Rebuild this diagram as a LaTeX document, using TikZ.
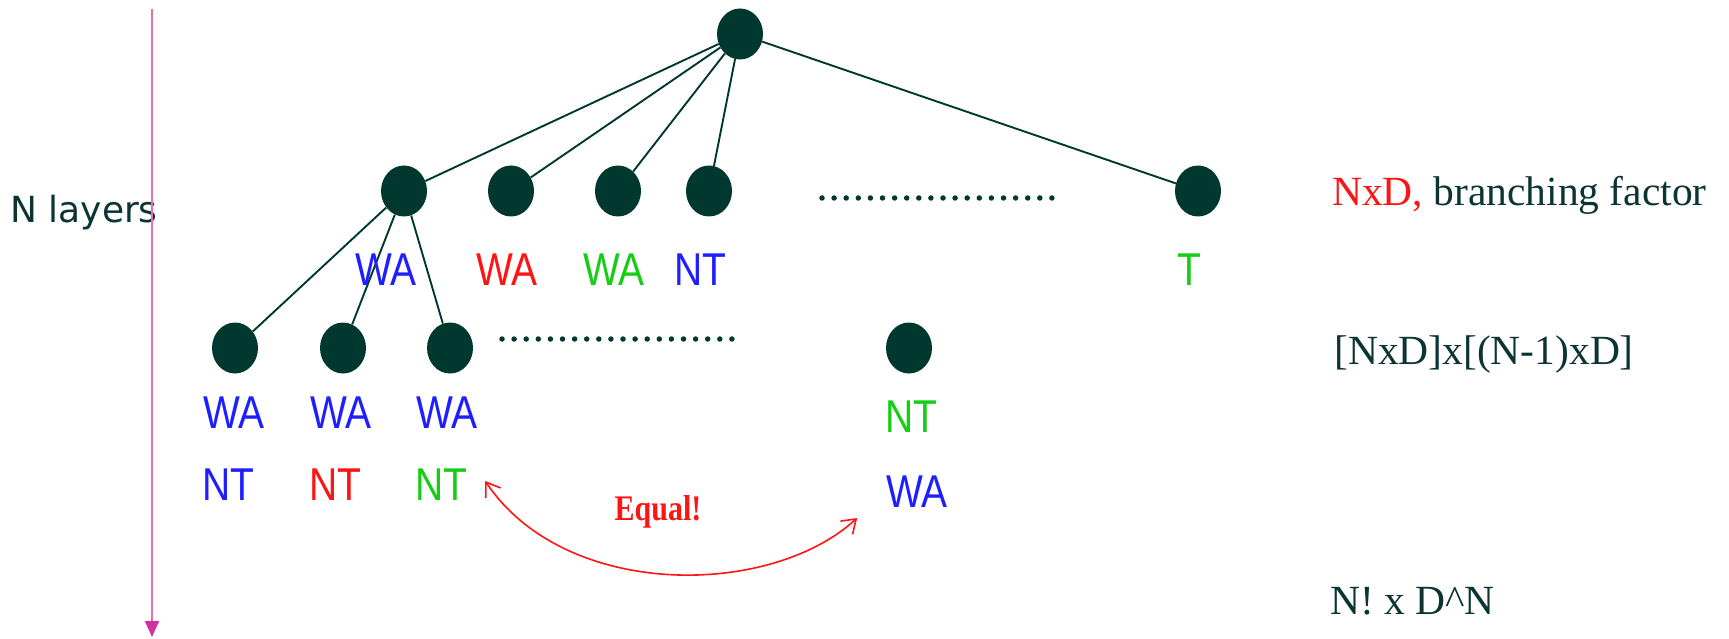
\documentclass[tikz,border=0pt]{standalone}
\usepackage{fontspec}
\setmainfont{Liberation Serif}
\newfontfamily\lblfont{Liberation Sans}
\newfontfamily\layfont{DejaVu Sans}
\usetikzlibrary{shapes.geometric,arrows.meta}
\definecolor{nodeink}{RGB}{0,56,48}
\definecolor{textink}{RGB}{12,52,52}
\definecolor{pinkline}{RGB}{228,110,185}
\definecolor{pinkhead}{RGB}{208,50,160}
\definecolor{cblue}{RGB}{30,30,255}
\definecolor{cred}{RGB}{255,20,20}
\definecolor{cgreen}{RGB}{20,205,20}
% colour name, text: a tall sans-serif state label
\newcommand\statelbl[2]{\textcolor{#1}{\scalebox{1}[1.18]{#2}}}
\tikzset{
  dot/.style={ellipse, fill=nodeink, draw=none, minimum width=46pt, minimum height=51pt, inner sep=0pt},
  branch/.style={draw=nodeink, line width=1.9pt},
  lbl/.style={font=\lblfont\fontsize{39}{44}\selectfont, inner sep=0pt},
  note/.style={font=\fontsize{41.5}{48}\selectfont, text=textink, inner sep=0pt, anchor=base west},
  dotrow/.style={draw=nodeink, line width=5.5pt, line cap=round, dash pattern=on 0pt off 12.1pt},
}
\begin{document}
\begin{tikzpicture}[x=1pt,y=-1pt]
\useasboundingbox (0,0) rectangle (1729,639);

% layer axis
\node[font=\layfont\fontsize{36}{42}\selectfont, text=textink, inner sep=0pt] (layers) at (84,213) {N layers};
\coordinate (axtop) at (152,9);
\coordinate (axbot) at (152,637);
\draw[pinkline, line width=2pt, -{Triangle[length=16pt, width=14pt, fill=pinkhead, color=pinkhead]}] (axtop) -- (axbot);

% tree nodes
\node[dot] (root) at (740,34) {};
\node[dot] (a1) at (404,191) {};
\node[dot] (a2) at (511,191) {};
\node[dot] (a3) at (618,191) {};
\node[dot] (a4) at (709,191) {};
\node[dot] (a5) at (1198,191) {};
\node[dot] (b1) at (235,348) {};
\node[dot] (b2) at (343,348) {};
\node[dot] (b3) at (450,348) {};
\node[dot] (b4) at (909,348) {};

% branches
\foreach \c in {a1,a2,a3,a4,a5} \draw[branch] (root) -- (\c);
\foreach \c in {b1,b2,b3} \draw[branch] (a1) -- (\c);

% elided siblings
\coordinate (d1s) at (822,198);
\coordinate (d1e) at (1053,198);
\draw[dotrow] (d1s) -- (d1e);
\coordinate (d2s) at (502,339);
\coordinate (d2e) at (732,339);
\draw[dotrow] (d2s) -- (d2e);

% first-layer assignments
\node[lbl] (la1) at (386,270) {\statelbl{cblue}{WA}};
\node[lbl] (la2) at (507,270) {\statelbl{cred}{WA}};
\node[lbl] (la3) at (614,270) {\statelbl{cgreen}{WA}};
\node[lbl] (la4) at (700,270) {\statelbl{cblue}{NT}};
\node[lbl] (la5) at (1189,270) {\statelbl{cgreen}{T}};

% second-layer assignments
\node[lbl] (lb1) at (234,413) {\statelbl{cblue}{WA}};
\node[lbl] (lb2) at (341,413) {\statelbl{cblue}{WA}};
\node[lbl] (lb3) at (447,413) {\statelbl{cblue}{WA}};
\node[lbl] (lc1) at (228,485) {\statelbl{cblue}{NT}};
\node[lbl] (lc2) at (335,485) {\statelbl{cred}{NT}};
\node[lbl] (lc3) at (441,485) {\statelbl{cgreen}{NT}};
\node[lbl] (lb4) at (911,417) {\statelbl{cgreen}{NT}};
\node[lbl] (lc4) at (917,492) {\statelbl{cblue}{WA}};

% equal states
\node[font=\bfseries\fontsize{30}{34}\selectfont, text=cred, inner sep=0pt] (eq) at (658,512) {\scalebox{1}[1.2]{Equal!}};
\draw[cred, line width=1.6pt, {Straight Barb[length=13pt, width=18pt]}-{Straight Barb[length=13pt, width=18pt]}]
  ([shift={(18,-4)}]lc3.east) .. controls (565,600) and (770,598) .. ([shift={(-29,26)}]lc4.west);

% counts per layer
\node[note] (n1) at (1332,206) {\textcolor{cred}{NxD,} branching factor};
\node[note] (n2) at (1334,364) {[NxD]x[(N-1)xD]};
\node[note] (n3) at (1330,614) {N! x D\^{}N};
\end{tikzpicture}
\end{document}
